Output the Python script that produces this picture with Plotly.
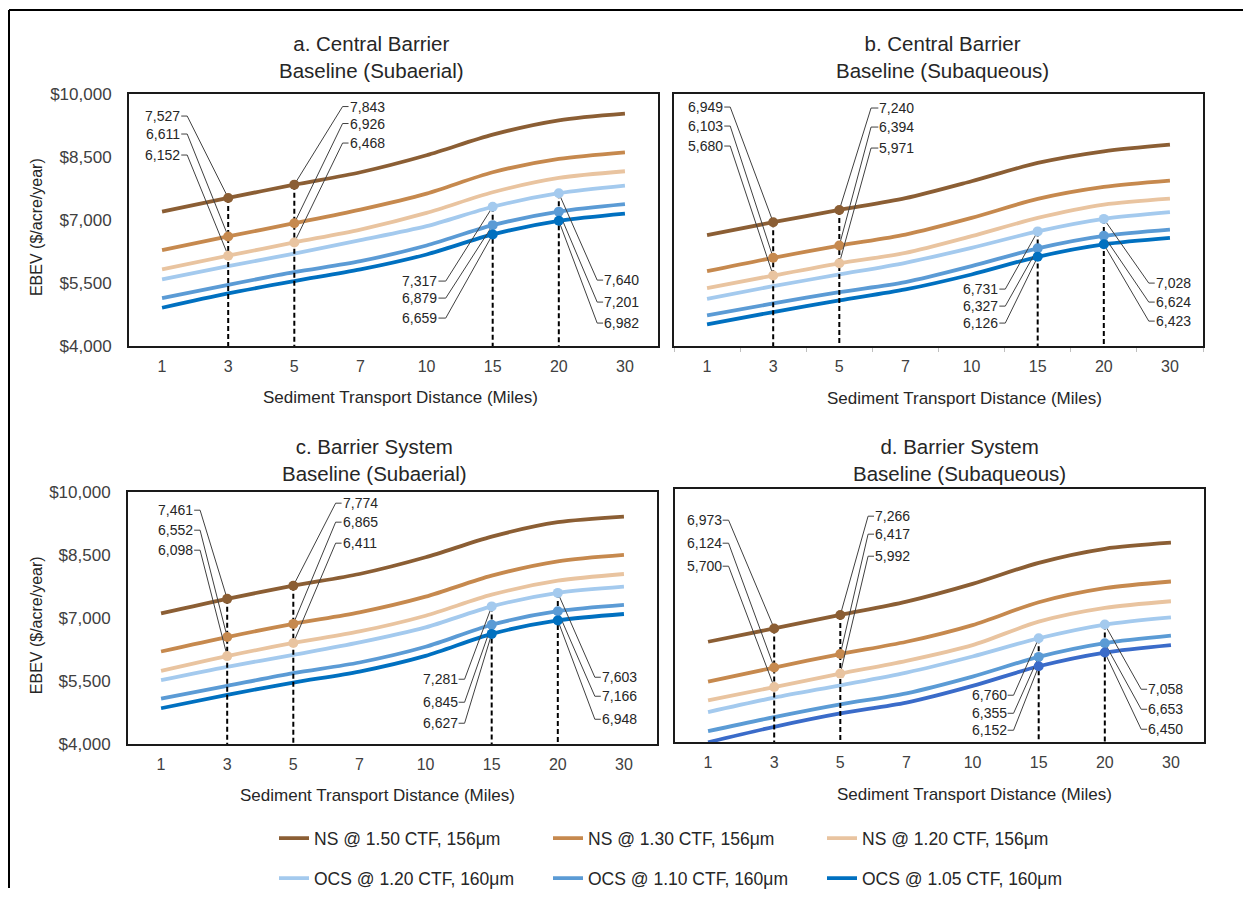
import plotly.graph_objects as go

W, H = 1243, 898
FONT = "Liberation Sans, Arial, sans-serif"

# ---------------- data ----------------
categories = ["1", "3", "5", "7", "10", "15", "20", "30"]
series_names = ["NS @ 1.50 CTF, 156μm", "NS @ 1.30 CTF, 156μm", "NS @ 1.20 CTF, 156μm",
                "OCS @ 1.20 CTF, 160μm", "OCS @ 1.10 CTF, 160μm", "OCS @ 1.05 CTF, 160μm"]
series_colors = ["#8B5E34", "#C6894E", "#E9C4A0", "#A4CAEE", "#5B9BD5", "#0070C0"]
y_ticks = [4000, 5500, 7000, 8500, 10000]
y_tick_text = ["$" + f"{v:,}" for v in y_ticks]

# a. Central Barrier, Baseline (Subaerial)
a_ns150 = [7203, 7527, 7843, 8138, 8542, 9033, 9374, 9532]
a_ns130 = [6284, 6611, 6926, 7250, 7631, 8138, 8455, 8613]
a_ns120 = [5824, 6152, 6468, 6775, 7171, 7662, 8003, 8162]
a_ocs120 = [5586, 5903, 6204, 6521, 6854, 7317, 7640, 7821]
a_ocs110 = [5143, 5460, 5761, 6022, 6395, 6879, 7201, 7377]
a_ocs105 = [4913, 5254, 5547, 5824, 6181, 6659, 6982, 7155]

# b. Central Barrier, Baseline (Subaqueous)
b_ns150 = [6640, 6949, 7240, 7520, 7924, 8360, 8637, 8796]
b_ns130 = [5784, 6103, 6394, 6656, 7052, 7504, 7789, 7940]
b_ns120 = [5380, 5680, 5971, 6220, 6617, 7052, 7369, 7512]
b_ocs120 = [5127, 5428, 5705, 5983, 6339, 6731, 7028, 7187]
b_ocs110 = [4731, 5016, 5285, 5523, 5903, 6327, 6624, 6775]
b_ocs105 = [4517, 4810, 5087, 5349, 5705, 6126, 6423, 6577]

# c. Barrier System, Baseline (Subaerial)
c_ns150 = [7115, 7461, 7774, 8052, 8450, 8943, 9285, 9420]
c_ns130 = [6208, 6552, 6865, 7138, 7512, 8013, 8355, 8506]
c_ns120 = [5747, 6098, 6411, 6685, 7059, 7560, 7893, 8052]
c_ocs120 = [5525, 5843, 6129, 6423, 6781, 7281, 7603, 7750]
c_ocs110 = [5087, 5390, 5692, 5946, 6320, 6845, 7166, 7315]
c_ocs105 = [4857, 5175, 5469, 5731, 6105, 6627, 6948, 7100]

# d. Barrier System, Baseline (Subaqueous)
d_ns150 = [6684, 6973, 7266, 7556, 7942, 8400, 8705, 8836]
d_ns130 = [5818, 6124, 6417, 6684, 7047, 7542, 7847, 7993]
d_ns120 = [5411, 5700, 5992, 6269, 6611, 7120, 7418, 7564]
d_ocs120 = [5156, 5469, 5738, 6015, 6364, 6760, 7058, 7215]
d_ocs110 = [4742, 5047, 5324, 5564, 5927, 6355, 6653, 6815]
d_ocs105 = [4500, 4836, 5127, 5360, 5724, 6152, 6450, 6611]

panel_titles = ["a. Central Barrier<br>Baseline (Subaerial)",
                "b. Central Barrier<br>Baseline (Subaqueous)",
                "c. Barrier System<br>Baseline (Subaerial)",
                "d. Barrier System<br>Baseline (Subaqueous)"]
x_title = "Sediment Transport Distance (Miles)"
y_title = "EBEV ($/acre/year)"

panel_series = [
    [a_ns150, a_ns130, a_ns120, a_ocs120, a_ocs110, a_ocs105],
    [b_ns150, b_ns130, b_ns120, b_ocs120, b_ocs110, b_ocs105],
    [c_ns150, c_ns130, c_ns120, c_ocs120, c_ocs110, c_ocs105],
    [d_ns150, d_ns130, d_ns120, d_ocs120, d_ocs110, d_ocs105],
]

# labelled points: (category index, series indices)
callout_points = [(1, [0, 1, 2]), (2, [0, 1, 2]), (5, [3, 4, 5]), (6, [3, 4, 5])]

# ---------------- layout (positions, in pixels / axis units) ----------------
panel_layout = [
    dict(frame=(129, 658, 94, 346), yrange=[4000, 10000], yticks=True, minor=False,
         title=(371, 57), xtitle=(400, 397), ytitle=(36, 227),
         labels=[("left", 0.29, 0.38, [9476, 9048, 8548]),
                 ("right", 2.82, 2.73, [9702, 9298, 8833]),
                 ("left", 4.18, 4.29, [5548, 5143, 4667]),
                 ("right", 6.67, 6.58, [5571, 5048, 4548])]),
    dict(frame=(674, 1203, 94, 346), yrange=[4000, 10000], yticks=False, minor=True,
         title=(942, 57), xtitle=(964, 398), ytitle=None,
         labels=[("left", 0.26, 0.35, [9690, 9238, 8762]),
                 ("right", 2.59, 2.48, [9667, 9214, 8714]),
                 ("left", 4.42, 4.51, [5357, 4952, 4548]),
                 ("right", 6.77, 6.68, [5500, 5048, 4595])]),
    dict(frame=(128, 657, 492, 744), yrange=[4000, 10000], yticks=True, minor=False,
         title=(374, 460), xtitle=(378, 795), ytitle=(36, 625),
         labels=[("left", 0.50, 0.59, [9571, 9095, 8619]),
                 ("right", 2.73, 2.64, [9738, 9286, 8786]),
                 ("left", 4.50, 4.59, [5548, 5000, 4500]),
                 ("right", 6.65, 6.56, [5595, 5143, 4595])]),
    dict(frame=(675, 1204, 489, 742), yrange=[4500, 10000], yticks=False, minor=False,
         title=(959, 460), xtitle=(974, 794), ytitle=None,
         labels=[("left", 0.22, 0.31, [9326, 8826, 8326]),
                 ("right", 2.51, 2.42, [9413, 9022, 8543]),
                 ("left", 4.53, 4.62, [5522, 5130, 4761]),
                 ("right", 6.64, 6.55, [5652, 5217, 4783])]),
]
panel_d_last_color = "#3A6BC9"

# the captured page shows the figure offset/compressed vertically; compensate
Y_OFF, Y_K = 9.0, 0.9785


def px(x):
    return x / W


def py(y):
    return 1 - ((y - Y_OFF) / Y_K) / H


fig = go.Figure()
annotations = []
xidx = list(range(len(categories)))

for p, (series, lay) in enumerate(zip(panel_series, panel_layout)):
    n = p + 1
    xa = "x" if n == 1 else f"x{n}"
    ya = "y" if n == 1 else f"y{n}"
    ymin = lay["yrange"][0]

    for s, vals in enumerate(series):
        color = series_colors[s]
        if p == 3 and s == 5:
            color = panel_d_last_color
        fig.add_trace(go.Scatter(
            x=xidx, y=vals, mode="lines", name=series_names[s],
            line=dict(color=color, width=3.8, shape="spline", smoothing=0.8),
            xaxis=xa, yaxis=ya, showlegend=(p == 0),
            legend="legend" if s < 3 else "legend2", hoverinfo="skip"))

    for ci, sidx in callout_points:
        top = max(series[s][ci] for s in sidx)
        fig.add_trace(go.Scatter(
            x=[ci, ci], y=[top, ymin], mode="lines",
            line=dict(color="#000000", width=2, dash="5px,3px"),
            xaxis=xa, yaxis=ya, showlegend=False, hoverinfo="skip"))

    for (ci, sidx), (side, tx, ex, ys) in zip(callout_points, lay["labels"]):
        for s, ty in zip(sidx, ys):
            v = series[s][ci]
            color = series_colors[s]
            if p == 3 and s == 5:
                color = panel_d_last_color
            fig.add_trace(go.Scatter(
                x=[tx, ex, ci], y=[ty, ty, v], mode="lines",
                line=dict(color="#404040", width=1),
                xaxis=xa, yaxis=ya, showlegend=False, hoverinfo="skip"))
            fig.add_trace(go.Scatter(
                x=[ci], y=[v], mode="markers",
                marker=dict(color=color, size=10),
                xaxis=xa, yaxis=ya, showlegend=False, hoverinfo="skip"))
            annotations.append(dict(
                x=tx, y=ty, xref=xa, yref=ya, text=f"{v:,}", showarrow=False,
                xanchor="right" if side == "left" else "left", yanchor="middle",
                font=dict(size=14, color="#262626", family=FONT), borderpad=0))

    l, r, t, b = lay["frame"]
    xaxis_def = dict(
        domain=[px(l), px(r)], anchor=ya, range=[-0.5, len(categories) - 0.5],
        tickvals=xidx, ticktext=categories, showgrid=False, zeroline=False,
        showline=True, mirror=True, linecolor="#1a1a1a", linewidth=2,
        ticks="", ticklabelstandoff=5,
        tickfont=dict(size=16, color="#404040", family=FONT))
    if lay["minor"]:
        xaxis_def["minor"] = dict(tickvals=[i - 0.5 for i in range(len(categories) + 1)],
                                  ticks="outside", ticklen=4, tickwidth=1,
                                  tickcolor="#bfbfbf", showgrid=False)
    fig.update_layout(**{
        ("xaxis" if n == 1 else f"xaxis{n}"): xaxis_def,
        ("yaxis" if n == 1 else f"yaxis{n}"): dict(
            domain=[py(b), py(t)], anchor=xa, range=lay["yrange"],
            tickvals=y_ticks, ticktext=y_tick_text,
            showticklabels=lay["yticks"], showgrid=False, zeroline=False,
            showline=True, mirror=True, linecolor="#1a1a1a", linewidth=2,
            ticks="", ticklabelstandoff=12,
            tickfont=dict(size=17, color="#404040", family=FONT)),
    })

    annotations.append(dict(
        x=px(lay["title"][0]), y=py(lay["title"][1]), xref="paper", yref="paper",
        text=panel_titles[p], showarrow=False, xanchor="center", yanchor="middle",
        font=dict(size=20.5, color="#262626", family=FONT)))
    annotations.append(dict(
        x=px(lay["xtitle"][0]), y=py(lay["xtitle"][1]), xref="paper", yref="paper",
        text=x_title, showarrow=False, xanchor="center", yanchor="middle",
        font=dict(size=17, color="#262626", family=FONT)))
    if lay["ytitle"]:
        annotations.append(dict(
            x=px(lay["ytitle"][0]), y=py(lay["ytitle"][1]), xref="paper", yref="paper",
            text=y_title, showarrow=False, textangle=-90, xanchor="center", yanchor="middle",
            font=dict(size=16, color="#262626", family=FONT)))

legend_common = dict(orientation="h", xanchor="left", yanchor="middle",
                     entrywidth=229, entrywidthmode="pixels", itemwidth=30,
                     font=dict(size=17.5, color="#262626", family=FONT),
                     bgcolor="rgba(0,0,0,0)", traceorder="normal")

top_border = 1 - 1.0 / H
fig.update_layout(
    width=W, height=H, margin=dict(l=0, r=0, t=0, b=0),
    paper_bgcolor="white", plot_bgcolor="white",
    font=dict(family=FONT),
    annotations=annotations,
    legend=dict(x=px(274), y=py(838), **legend_common),
    legend2=dict(x=px(274), y=py(878), **legend_common),
    shapes=[
        dict(type="line", xref="paper", yref="paper", x0=px(9), x1=1,
             y0=top_border, y1=top_border, line=dict(color="#000000", width=2)),
        dict(type="line", xref="paper", yref="paper", x0=px(9), x1=px(9),
             y0=top_border, y1=0, line=dict(color="#000000", width=2)),
    ],
)

pin_script = (
    "document.body.style.margin='0';"
    "document.documentElement.style.overflow='hidden';"
    "document.body.style.overflow='hidden';"
    "var gd=document.getElementById('{plot_id}');"
    "gd.style.position='fixed';gd.style.top='0px';gd.style.left='0px';"
)
fig.write_html("out.html", config={"displayModeBar": False}, post_script=pin_script)
